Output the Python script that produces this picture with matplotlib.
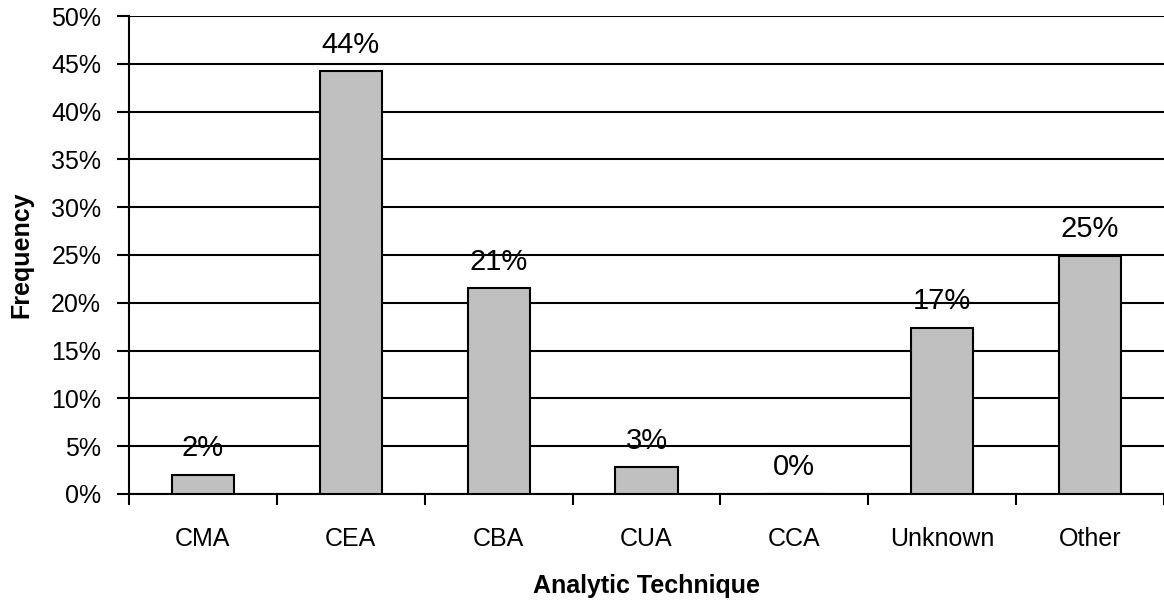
import matplotlib.pyplot as plt
import numpy as np

# data
categories = ['CMA', 'CEA', 'CBA', 'CUA', 'CCA', 'Unknown', 'Other']
frequency = [0.020, 0.442, 0.215, 0.028, 0.0, 0.174, 0.249]
labels = ['2%', '44%', '21%', '3%', '0%', '17%', '25%']
yticks = np.arange(0, 0.51, 0.05)

plt.rcParams['font.family'] = ['Liberation Sans', 'DejaVu Sans']

fig = plt.figure(figsize=(11.64, 6), dpi=100)
ax = fig.add_axes([0.1108, 0.1767, 0.8892, 0.7966])

x = np.arange(len(categories))
bars = ax.bar(x, frequency, width=0.42, color='#c0c0c0', edgecolor='black',
              linewidth=1.5, zorder=3)
for xi, v, t in zip(x, frequency, labels):
    ax.annotate(t, (xi, v), xytext=(0, 9), textcoords='offset points',
                ha='center', va='bottom', fontsize=21)

ax.set_xlim(-0.5, len(categories) - 0.5)
ax.set_ylim(0, 0.5)
ax.set_yticks(yticks)
ax.set_yticklabels([f'{int(round(t * 100))}%' for t in yticks])
ax.yaxis.grid(True, color='black', linewidth=1.5, zorder=0)
ax.set_axisbelow(True)

ax.set_xticks(x)
ax.set_xticklabels(categories)
ax.set_xticks(np.arange(-0.5, len(categories), 1), minor=True)
ax.tick_params(axis='x', which='major', length=0, pad=24, labelsize=18)
ax.tick_params(axis='x', which='minor', length=8, width=1.5, direction='out')
ax.tick_params(axis='y', length=9, width=1.5, pad=11, labelsize=18)

for s in ['top', 'right']:
    ax.spines[s].set_visible(False)
for s in ['left', 'bottom']:
    ax.spines[s].set_linewidth(1.5)

ax.set_xlabel('Analytic Technique', fontsize=18, fontweight='bold', labelpad=16)
ax.set_ylabel('Frequency', fontsize=18, fontweight='bold', labelpad=13)

fig.savefig('out.png', dpi=100)
